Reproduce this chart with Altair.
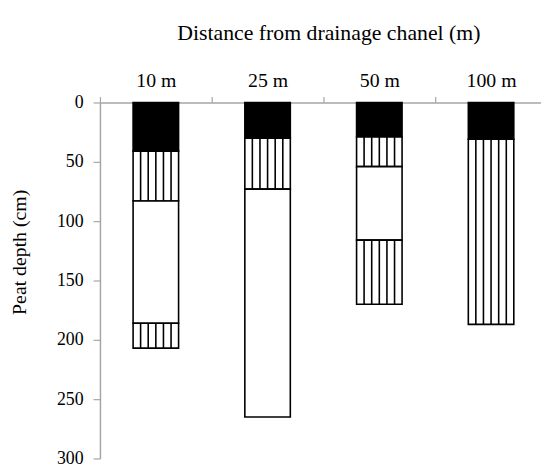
import altair as alt
import pandas as pd

# Sites (distance from drainage channel)
sites = ["10 m", "25 m", "50 m", "100 m"]

# Peat-profile segments: site, top depth (cm), bottom depth (cm), layer type
seg_site = ["10 m", "10 m", "10 m", "10 m",
            "25 m", "25 m", "25 m",
            "50 m", "50 m", "50 m", "50 m",
            "100 m", "100 m"]
seg_top = [0, 41, 83, 186,
           0, 30, 73,
           0, 29, 54, 116,
           0, 31]
seg_bottom = [41, 83, 186, 207,
              30, 73, 265,
              29, 54, 116, 170,
              31, 187]
seg_layer = ["black", "striped", "white", "striped",
             "black", "striped", "white",
             "black", "striped", "white", "striped",
             "black", "striped"]

y_ticks = [0, 50, 100, 150, 200, 250, 300]

df = pd.DataFrame({"site": seg_site, "top": seg_top,
                   "bottom": seg_bottom, "layer": seg_layer})

FONT = "Liberation Serif"
GRAY = "#a6a6a6"

x_enc = alt.X(
    "site:N",
    sort=sites,
    scale=alt.Scale(domain=sites, range=[0, 452], paddingInner=0, paddingOuter=0),
    axis=alt.Axis(
        orient="top",
        title="Distance from drainage chanel (m)",
        titleFont=FONT, titleFontSize=22, titleFontWeight="normal",
        titleColor="black",
        titleX=231, titleY=-64, titleAlign="center", titleBaseline="alphabetic",
        labelFont=FONT, labelFontSize=20, labelColor="black",
        labelAngle=0, labelPadding=6,
        tickBand="extent", tickSize=6, tickColor=GRAY, tickWidth=1.2,
        domainColor=GRAY, domainWidth=1.5,
        grid=False,
    ),
)

y_enc = alt.Y(
    "top:Q",
    scale=alt.Scale(domain=[0, 300], reverse=True, nice=False),
    axis=alt.Axis(
        values=y_ticks,
        title="Peat depth (cm)",
        titleFont=FONT, titleFontSize=20, titleFontWeight="normal",
        titleColor="black", titleAngle=270,
        titleX=-81, titleY=151, titleAlign="center", titleBaseline="middle",
        labelFont=FONT, labelFontSize=18, labelColor="black",
        labelPadding=10,
        tickSize=7, tickColor=GRAY, tickWidth=1.2,
        domainColor=GRAY, domainWidth=1.5,
        grid=False,
    ),
)

bars = alt.Chart(df).mark_bar(size=46, stroke="black", strokeWidth=1.6).encode(
    x=x_enc,
    y=y_enc,
    y2="bottom:Q",
    fill=alt.Fill("layer:N",
                  scale=alt.Scale(domain=["black", "striped", "white"],
                                  range=["black", "white", "white"]),
                  legend=None),
)

stripe_offsets = [-15.4, -7.7, 0, 7.7, 15.4]
stripes = [
    alt.Chart(df).transform_filter(alt.datum.layer == "striped")
    .mark_rule(color="black", strokeWidth=1.6, xOffset=off)
    .encode(x=alt.X("site:N", sort=sites), y="top:Q", y2="bottom:Q")
    for off in stripe_offsets
]

chart = alt.layer(bars, *stripes).properties(
    width=446,
    height=360,
    autosize=alt.AutoSizeParams(type="none"),
    padding={"left": 93, "top": 93, "right": 0, "bottom": 4},
    background="white",
).configure_view(stroke=None)

chart.save("out.html", embed_options={"renderer": "svg", "actions": False})
